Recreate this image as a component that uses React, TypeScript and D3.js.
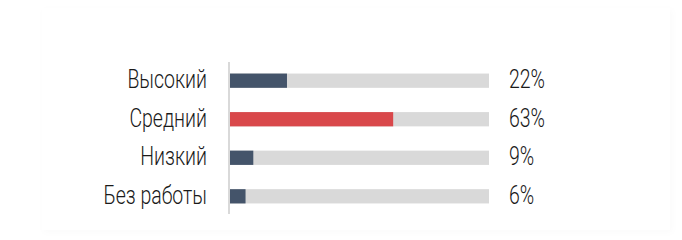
import React from "react";
import * as d3 from "d3";

const categories = ["Высокий", "Средний", "Низкий", "Без работы"];
const values = [22, 63, 9, 6];
const highlight = [false, true, false, false];

export default function App() {
  const W = 682, H = 240;
  const x = d3.scaleLinear().domain([0, 100]).range([230, 489]);
  const y = d3.scaleBand().domain(categories).range([62, 215]).paddingInner(0.63).paddingOuter(0.3);
  const bh = y.bandwidth();
  const font = "Roboto, 'Liberation Sans Narrow', sans-serif";
  return (
    <svg width={W} height={H} style={{ position: "absolute", left: 0, top: 0 }}>
      <defs>
        <filter id="sh" x="-5%" y="-5%" width="110%" height="110%">
          <feDropShadow dx="2" dy="2" stdDeviation="3" floodColor="#000" floodOpacity="0.02" />
        </filter>
      </defs>
      <rect x={0} y={0} width={W} height={H} fill="#fff" />
      <rect x={42} y={8} width={628} height={222} fill="#fff" filter="url(#sh)" />
      <line x1={229} x2={229} y1={62} y2={214} stroke="#d9d9d9" strokeWidth={2} />
      {categories.map((c, i) => {
        const yy = y(c)!;
        const cy = yy + bh / 2;
        return (
          <g key={c}>
            <rect x={x(0)} y={yy} width={x(100) - x(0)} height={bh} fill="#d9d9d9" />
            <rect x={x(0)} y={yy} width={x(values[i]) - x(0)} height={bh} fill={highlight[i] ? "#d9484b" : "#44546a"} />
            <text
              transform={`translate(207,${cy + 7.5}) scale(0.78,1)`}
              textAnchor="end"
              fontFamily={font}
              fontWeight={300}
              fontSize={25}
              fill="#1a1a1a"
            >
              {c}
            </text>
            <text
              transform={`translate(509,${cy + 7.5}) scale(0.78,1)`}
              textAnchor="start"
              fontFamily={font}
              fontWeight={300}
              fontSize={25}
              fill="#1a1a1a"
            >
              {values[i] + "%"}
            </text>
          </g>
        );
      })}
    </svg>
  );
}
